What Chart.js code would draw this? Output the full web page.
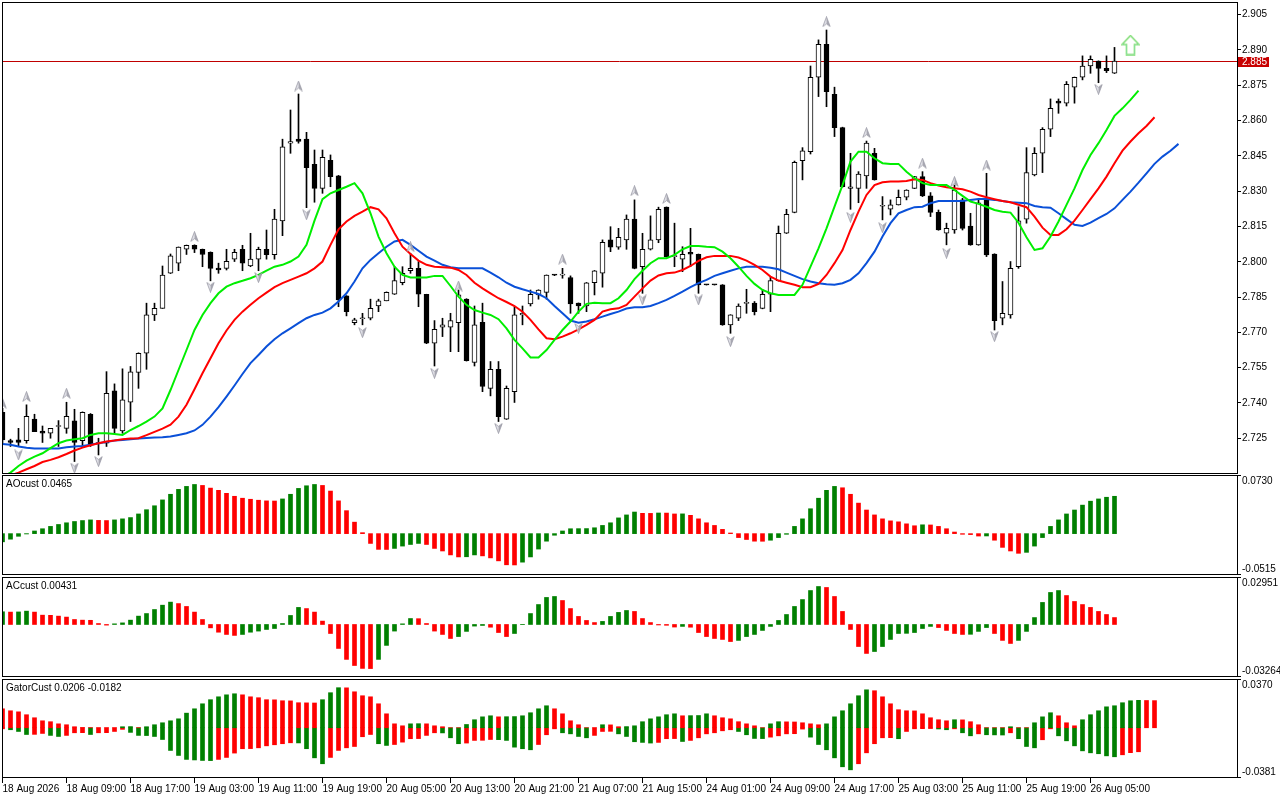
<!DOCTYPE html>
<html><head><meta charset="utf-8">
<script src="https://cdn.jsdelivr.net/npm/chart.js@4.4.1/dist/chart.umd.min.js"></script>
<style>
html,body{margin:0;padding:0;background:#fff;width:1280px;height:800px;overflow:hidden}
canvas{position:absolute;left:0}
</style></head><body>
<canvas id="c1" style="top:0px" width="1280" height="476"></canvas>
<canvas id="c2" style="top:474px" width="1280" height="102"></canvas>
<canvas id="c3" style="top:576px" width="1280" height="102"></canvas>
<canvas id="c4" style="top:678px" width="1280" height="122"></canvas>
<script>
// ---------- data ----------
const timeTickIndex=[0,8,16,24,32,40,48,56,64,72,80,88,96,104,112,120,128,136];
const timeTickLabels=["18 Aug 2026","18 Aug 09:00","18 Aug 17:00","19 Aug 03:00","19 Aug 11:00","19 Aug 19:00","20 Aug 05:00","20 Aug 13:00","20 Aug 21:00","21 Aug 07:00","21 Aug 15:00","24 Aug 01:00","24 Aug 09:00","24 Aug 17:00","25 Aug 03:00","25 Aug 11:00","25 Aug 19:00","26 Aug 05:00"];
const priceTicks=[2.905,2.890,2.875,2.860,2.845,2.830,2.815,2.800,2.785,2.770,2.755,2.740,2.725];
const priceRange=[2.7098,2.9104];
const aoRange=[-0.0515,0.0730];
const acRange=[-0.03264,0.02951];
const gatorRange=[-0.0381,0.0370];

const openP=[2.7360,2.7240,2.7243,2.7240,2.7331,2.7280,2.7271,2.7300,2.7292,2.7324,
2.7240,2.7352,2.7232,2.7229,2.7451,2.7281,2.7403,2.7530,2.7611,2.7774,
2.7802,2.7951,2.7994,2.8053,2.8070,2.8053,2.8040,2.7973,2.7972,2.8011,
2.8053,2.7982,2.8011,2.8053,2.8030,2.8174,2.8504,2.8521,2.8521,2.8414,
2.8312,2.8431,2.8365,2.7855,2.7741,2.7758,2.7760,2.7812,2.7834,2.7862,
2.7911,2.7962,2.7972,2.7862,2.7654,2.7722,2.7722,2.7741,2.7841,2.7572,
2.7743,2.7462,2.7543,2.7331,2.7448,2.7774,2.7821,2.7859,2.7870,2.7943,
2.7943,2.7933,2.7824,2.7812,2.7911,2.7951,2.8093,2.8062,2.8093,2.8181,
2.7979,2.8053,2.8093,2.8232,2.8022,2.8011,2.8040,2.8032,2.7902,2.7902,
2.7902,2.7732,2.7760,2.7823,2.7824,2.7802,2.7862,2.7920,2.8121,2.8210,
2.8430,2.8468,2.8784,2.8924,2.8712,2.8570,2.8312,2.8312,2.8365,2.8461,
2.8236,2.8223,2.8242,2.8274,2.8312,2.8362,2.8280,2.8210,2.8121,2.8135,
2.8263,2.8152,2.8072,2.8266,2.8033,2.7760,2.7774,2.7979,2.8181,2.8369,
2.8461,2.8563,2.8683,2.8674,2.8742,2.8784,2.8832,2.8853,2.8822,2.8801];
const highP=[2.7377,2.7246,2.7292,2.7392,2.7352,2.7302,2.7292,2.7325,2.7403,2.7373,
2.7362,2.7355,2.7250,2.7533,2.7481,2.7545,2.7555,2.7613,2.7824,2.7824,
2.7982,2.8033,2.8063,2.8071,2.8072,2.8054,2.8042,2.7994,2.8053,2.8053,
2.8070,2.8121,2.8062,2.8135,2.8223,2.8521,2.8645,2.8713,2.8550,2.8475,
2.8475,2.8454,2.8367,2.7856,2.7760,2.7781,2.7841,2.7841,2.7872,2.7979,
2.7979,2.8036,2.8001,2.7862,2.7750,2.7760,2.7781,2.7880,2.7843,2.7812,
2.7824,2.7576,2.7576,2.7472,2.7809,2.7812,2.7880,2.7881,2.7944,2.7945,
2.7972,2.7940,2.7825,2.7912,2.7963,2.8093,2.8149,2.8142,2.8199,2.8263,
2.8121,2.8195,2.8232,2.8233,2.8164,2.8064,2.8142,2.8033,2.7903,2.7903,
2.7903,2.7775,2.7821,2.7883,2.7831,2.7883,2.7937,2.8152,2.8223,2.8428,
2.8485,2.8832,2.8943,2.8985,2.8742,2.8572,2.8461,2.8383,2.8513,2.8482,
2.8277,2.8263,2.8305,2.8306,2.8363,2.8383,2.8294,2.8220,2.8164,2.8326,
2.8270,2.8206,2.8263,2.8376,2.8034,2.7916,2.8001,2.8234,2.8485,2.8485,
2.8570,2.8692,2.8692,2.8766,2.8785,2.8875,2.8875,2.8854,2.8875,2.8911];
const lowP=[2.7229,2.7215,2.7215,2.7229,2.7278,2.7232,2.7250,2.7215,2.7271,2.7151,
2.7215,2.7215,2.7179,2.7215,2.7271,2.7271,2.7321,2.7462,2.7543,2.7750,
2.7802,2.7950,2.7962,2.8031,2.8039,2.7979,2.7919,2.7951,2.7965,2.8001,
2.7962,2.7979,2.7962,2.8011,2.8011,2.8111,2.8461,2.8504,2.8230,2.8253,
2.8291,2.8319,2.7809,2.7770,2.7732,2.7732,2.7753,2.7788,2.7834,2.7861,
2.7902,2.7951,2.7809,2.7652,2.7557,2.7682,2.7618,2.7618,2.7578,2.7557,
2.7448,2.7430,2.7321,2.7330,2.7402,2.7732,2.7812,2.7841,2.7841,2.7941,
2.7930,2.7781,2.7781,2.7788,2.7859,2.7892,2.8043,2.8053,2.8053,2.7970,
2.7866,2.8050,2.8081,2.8020,2.7979,2.7958,2.7979,2.7866,2.7901,2.7901,
2.7730,2.7696,2.7750,2.7781,2.7774,2.7800,2.7788,2.7918,2.8120,2.8208,
2.8348,2.8458,2.8702,2.8659,2.8532,2.8317,2.8223,2.8251,2.8312,2.8347,
2.8178,2.8199,2.8241,2.8263,2.8311,2.8277,2.8192,2.8134,2.8072,2.8121,
2.8135,2.8070,2.8070,2.8022,2.7710,2.7732,2.7760,2.7972,2.8164,2.8365,
2.8379,2.8532,2.8631,2.8662,2.8674,2.8773,2.8801,2.8761,2.8804,2.8800];
const closeP=[2.7243,2.7232,2.7232,2.7343,2.7278,2.7271,2.7292,2.7304,2.7343,2.7232,
2.7360,2.7222,2.7226,2.7441,2.7292,2.7413,2.7532,2.7611,2.7774,2.7802,
2.7943,2.8025,2.8062,2.8070,2.8053,2.8031,2.7972,2.7965,2.8002,2.8040,
2.7994,2.8011,2.8053,2.8030,2.8181,2.8489,2.8511,2.8511,2.8400,2.8312,
2.8444,2.8362,2.7838,2.7788,2.7753,2.7760,2.7802,2.7834,2.7870,2.7920,
2.7951,2.7972,2.7862,2.7654,2.7713,2.7732,2.7750,2.7859,2.7580,2.7732,
2.7470,2.7543,2.7342,2.7462,2.7774,2.7781,2.7862,2.7880,2.7943,2.7943,
2.7944,2.7821,2.7812,2.7911,2.7962,2.8083,2.8062,2.8104,2.8181,2.7972,
2.8053,2.8093,2.8223,2.8022,2.8023,2.8032,2.8032,2.7902,2.7902,2.7902,
2.7732,2.7774,2.7812,2.7825,2.7788,2.7862,2.7920,2.8121,2.8202,2.8423,
2.8472,2.8784,2.8924,2.8723,2.8570,2.8319,2.8319,2.8373,2.8504,2.8348,
2.8238,2.8242,2.8274,2.8305,2.8362,2.8280,2.8210,2.8135,2.8142,2.8305,
2.8142,2.8072,2.8251,2.8029,2.7750,2.7781,2.7972,2.8174,2.8379,2.8461,
2.8563,2.8652,2.8674,2.8754,2.8784,2.8832,2.8860,2.8822,2.8812,2.8853];

const jawLine=[2.7226,2.7222,2.7215,2.7210,2.7206,2.7206,2.7206,2.7206,2.7212,2.7215,
2.7217,2.7222,2.7229,2.7234,2.7240,2.7243,2.7246,2.7249,2.7251,2.7253,
2.7254,2.7257,2.7264,2.7271,2.7283,2.7307,2.7342,2.7382,2.7427,2.7474,
2.7523,2.7569,2.7604,2.7640,2.7671,2.7696,2.7717,2.7739,2.7760,2.7774,
2.7784,2.7802,2.7831,2.7866,2.7916,2.7972,2.8008,2.8036,2.8064,2.8086,
2.8093,2.8072,2.8047,2.8022,2.8005,2.7987,2.7977,2.7972,2.7972,2.7972,
2.7972,2.7954,2.7934,2.7911,2.7894,2.7883,2.7873,2.7863,2.7845,2.7812,
2.7781,2.7750,2.7741,2.7746,2.7756,2.7767,2.7778,2.7788,2.7801,2.7807,
2.7807,2.7812,2.7824,2.7838,2.7855,2.7873,2.7892,2.7909,2.7923,2.7940,
2.7951,2.7962,2.7972,2.7979,2.7979,2.7979,2.7975,2.7968,2.7954,2.7940,
2.7926,2.7916,2.7909,2.7904,2.7902,2.7909,2.7923,2.7951,2.7994,2.8043,
2.8107,2.8164,2.8206,2.8220,2.8232,2.8234,2.8249,2.8258,2.8258,2.8258,
2.8258,2.8263,2.8267,2.8267,2.8263,2.8258,2.8253,2.8251,2.8249,2.8237,
2.8232,2.8230,2.8206,2.8181,2.8157,2.8152,2.8166,2.8185,2.8203,2.8227,
2.8263,2.8298,2.8336,2.8376,2.8416,2.8447,2.8472,2.8501];
const teethLine=[2.7085,2.7092,2.7104,2.7118,2.7132,2.7149,2.7158,2.7169,2.7183,2.7198,
2.7210,2.7220,2.7229,2.7236,2.7240,2.7246,2.7249,2.7250,2.7263,2.7277,
2.7291,2.7308,2.7342,2.7392,2.7458,2.7526,2.7590,2.7654,2.7708,2.7753,
2.7788,2.7817,2.7845,2.7869,2.7892,2.7909,2.7923,2.7937,2.7951,2.7972,
2.8001,2.8072,2.8138,2.8171,2.8195,2.8213,2.8232,2.8223,2.8185,2.8121,
2.8064,2.8033,2.8005,2.7987,2.7979,2.7977,2.7975,2.7965,2.7944,2.7911,
2.7887,2.7866,2.7845,2.7829,2.7812,2.7788,2.7753,2.7713,2.7675,2.7671,
2.7682,2.7696,2.7713,2.7732,2.7753,2.7788,2.7798,2.7802,2.7817,2.7852,
2.7887,2.7920,2.7942,2.7951,2.7954,2.7965,2.7982,2.8004,2.8019,2.8025,
2.8025,2.8025,2.8018,2.8005,2.7987,2.7965,2.7937,2.7920,2.7911,2.7902,
2.7892,2.7892,2.7906,2.7944,2.7994,2.8050,2.8135,2.8213,2.8284,2.8326,
2.8338,2.8341,2.8341,2.8343,2.8351,2.8348,2.8334,2.8324,2.8317,2.8312,
2.8308,2.8298,2.8284,2.8274,2.8266,2.8258,2.8253,2.8242,2.8232,2.8192,
2.8145,2.8114,2.8114,2.8138,2.8175,2.8220,2.8266,2.8312,2.8362,2.8419,
2.8472,2.8511,2.8546,2.8577,2.8614];
const lipsLine=[2.7085,2.7104,2.7132,2.7155,2.7172,2.7186,2.7208,2.7229,2.7240,2.7246,
2.7250,2.7264,2.7271,2.7271,2.7268,2.7264,2.7285,2.7302,2.7321,2.7342,
2.7377,2.7455,2.7540,2.7625,2.7710,2.7774,2.7824,2.7866,2.7894,2.7909,
2.7919,2.7930,2.7944,2.7962,2.7979,2.7987,2.8001,2.8022,2.8072,2.8175,
2.8266,2.8291,2.8305,2.8319,2.8334,2.8291,2.8206,2.8107,2.8036,2.7979,
2.7944,2.7933,2.7933,2.7933,2.7940,2.7940,2.7897,2.7852,2.7817,2.7795,
2.7784,2.7774,2.7756,2.7717,2.7668,2.7632,2.7593,2.7593,2.7625,2.7668,
2.7710,2.7746,2.7788,2.7821,2.7826,2.7824,2.7824,2.7845,2.7880,2.7926,
2.7962,2.7994,2.8015,2.8015,2.8029,2.8053,2.8067,2.8067,2.8064,2.8062,
2.8043,2.8015,2.7979,2.7940,2.7906,2.7880,2.7866,2.7859,2.7859,2.7859,
2.7902,2.7979,2.8057,2.8142,2.8234,2.8326,2.8426,2.8468,2.8468,2.8440,
2.8419,2.8416,2.8416,2.8383,2.8355,2.8334,2.8326,2.8326,2.8326,2.8305,
2.8280,2.8256,2.8246,2.8234,2.8220,2.8213,2.8209,2.8166,2.8104,2.8050,
2.8057,2.8107,2.8171,2.8242,2.8312,2.8390,2.8454,2.8504,2.8560,2.8620,
2.8652,2.8688,2.8727];

const fractalUpIndex=[0,3,8,24,37,51,57,70,79,83,103,108,115,119,123];
const fractalUpPrice=[2.7399,2.7427,2.7441,2.8107,2.8747,2.8064,2.7897,2.8011,2.8302,2.8269,2.9020,2.8549,2.8419,2.8341,2.8411];
const fractalDownIndex=[2,9,12,26,32,38,45,54,62,72,80,87,91,106,110,118,124,137];
const fractalDownPrice=[2.7179,2.7123,2.7151,2.7892,2.7933,2.8200,2.7699,2.7526,2.7292,2.7717,2.7838,2.7838,2.7661,2.8189,2.8145,2.8036,2.7682,2.8733];
const signalIndex=[141];
const signalPrice=[2.8921];

const aoValues=[-0.0102,-0.0069,-0.0033,-0.0004,0.0033,0.0061,0.0090,0.0114,0.0135,0.0151,
0.0163,0.0171,0.0165,0.0163,0.0171,0.0184,0.0200,0.0245,0.0298,0.0347,
0.0420,0.0490,0.0551,0.0588,0.0612,0.0600,0.0567,0.0539,0.0502,0.0465,
0.0441,0.0428,0.0416,0.0408,0.0406,0.0432,0.0490,0.0563,0.0596,0.0612,
0.0600,0.0530,0.0408,0.0286,0.0143,0.0012,-0.0122,-0.0196,-0.0197,-0.0184,
-0.0155,-0.0135,-0.0122,-0.0135,-0.0184,-0.0216,-0.0265,-0.0290,-0.0288,-0.0265,
-0.0277,-0.0302,-0.0339,-0.0388,-0.0390,-0.0355,-0.0290,-0.0192,-0.0094,-0.0020,
0.0033,0.0061,0.0062,0.0063,0.0073,0.0102,0.0135,0.0196,0.0233,0.0269,
0.0253,0.0252,0.0257,0.0256,0.0245,0.0246,0.0228,0.0184,0.0135,0.0102,
0.0053,0.0008,-0.0049,-0.0073,-0.0094,-0.0095,-0.0082,-0.0049,-0.0008,0.0090,
0.0184,0.0310,0.0441,0.0539,0.0588,0.0571,0.0490,0.0380,0.0294,0.0233,
0.0184,0.0159,0.0147,0.0122,0.0098,0.0110,0.0108,0.0090,0.0061,0.0020,
-0.0008,-0.0012,-0.0030,-0.0029,-0.0082,-0.0171,-0.0216,-0.0245,-0.0233,-0.0155,
-0.0049,0.0090,0.0171,0.0245,0.0294,0.0355,0.0404,0.0432,0.0453,0.0465];
const acValues=[0.0079,0.0077,0.0078,0.0083,0.0077,0.0058,0.0057,0.0052,0.0046,0.0031,
0.0027,0.0026,0.0006,-0.0004,0.0004,0.0010,0.0027,0.0052,0.0068,0.0093,
0.0120,0.0139,0.0130,0.0112,0.0077,0.0031,-0.0021,-0.0048,-0.0062,-0.0068,
-0.0062,-0.0048,-0.0041,-0.0031,-0.0025,0.0006,0.0056,0.0106,0.0099,0.0077,
0.0021,-0.0056,-0.0149,-0.0217,-0.0255,-0.0273,-0.0274,-0.0217,-0.0130,-0.0041,
0.0004,0.0037,0.0036,0.0006,-0.0041,-0.0062,-0.0087,-0.0075,-0.0043,-0.0010,
-0.0006,-0.0017,-0.0050,-0.0075,-0.0056,0.0001,0.0068,0.0124,0.0168,0.0174,
0.0149,0.0099,0.0050,0.0025,0.0012,0.0019,0.0050,0.0075,0.0087,0.0081,
0.0037,0.0012,-0.0003,-0.0005,-0.0016,-0.0012,-0.0017,-0.0050,-0.0075,-0.0087,
-0.0093,-0.0106,-0.0099,-0.0075,-0.0062,-0.0037,-0.0012,0.0025,0.0062,0.0112,
0.0155,0.0211,0.0236,0.0230,0.0174,0.0081,-0.0031,-0.0137,-0.0180,-0.0168,
-0.0137,-0.0093,-0.0056,-0.0055,-0.0050,-0.0025,-0.0012,-0.0019,-0.0037,-0.0056,
-0.0062,-0.0061,-0.0043,-0.0019,-0.0056,-0.0099,-0.0118,-0.0099,-0.0043,0.0043,
0.0137,0.0199,0.0211,0.0180,0.0143,0.0124,0.0106,0.0081,0.0062,0.00431];
const gatorUpper=[0.0144,0.0129,0.0121,0.0099,0.0076,0.0053,0.0046,0.0030,0.0023,0.0008,
0.0002,0.0001,0.0000,0.0000,0.0000,0.0008,0.0009,0.0001,0.0008,0.0023,
0.0038,0.0053,0.0068,0.0111,0.0144,0.0182,0.0213,0.0235,0.0250,0.0258,
0.0250,0.0235,0.0228,0.0213,0.0212,0.0205,0.0204,0.0190,0.0189,0.0188,
0.0213,0.0266,0.0304,0.0303,0.0273,0.0243,0.0235,0.0182,0.0106,0.0030,
0.0015,0.0030,0.0031,0.0030,0.0015,0.0008,0.0000,0.0000,0.0025,0.0061,
0.0083,0.0091,0.0083,0.0084,0.0085,0.0091,0.0114,0.0144,0.0167,0.0144,
0.0106,0.0053,0.0023,0.0000,0.0000,0.0023,0.0022,0.0008,0.0009,0.0015,
0.0046,0.0068,0.0083,0.0099,0.0106,0.0091,0.0092,0.0093,0.0106,0.0091,
0.0076,0.0068,0.0046,0.0030,0.0015,0.0000,0.0030,0.0046,0.0045,0.0044,
0.0038,0.0030,0.0023,0.0030,0.0083,0.0129,0.0182,0.0243,0.0288,0.0281,
0.0235,0.0182,0.0137,0.0129,0.0128,0.0106,0.0076,0.0061,0.0053,0.0061,
0.0060,0.0046,0.0023,0.0000,0.0000,0.0000,0.0008,0.0000,0.0000,0.0038,
0.0083,0.0114,0.0091,0.0038,0.0015,0.0061,0.0099,0.0129,0.0159,0.0167,
0.0190,0.0205,0.0208,0.0207,0.0206];
const gatorLower=[-0.0008,-0.0015,-0.0028,-0.0051,-0.0050,-0.0043,-0.0058,-0.0066,-0.0058,-0.0038,
-0.0037,-0.0051,-0.0038,-0.0037,-0.0028,-0.0012,-0.0035,-0.0058,-0.0059,-0.0066,
-0.0089,-0.0172,-0.0210,-0.0240,-0.0244,-0.0248,-0.0249,-0.0240,-0.0225,-0.0192,
-0.0159,-0.0158,-0.0152,-0.0137,-0.0129,-0.0121,-0.0114,-0.0115,-0.0159,-0.0228,
-0.0273,-0.0225,-0.0172,-0.0152,-0.0142,-0.0068,-0.0051,-0.0121,-0.0134,-0.0127,
-0.0109,-0.0083,-0.0082,-0.0058,-0.0038,-0.0039,-0.0076,-0.0121,-0.0116,-0.0096,
-0.0095,-0.0089,-0.0090,-0.0096,-0.0147,-0.0159,-0.0167,-0.0127,-0.0053,-0.0008,
-0.0038,-0.0046,-0.0066,-0.0076,-0.0058,-0.0028,-0.0027,-0.0046,-0.0066,-0.0106,
-0.0111,-0.0116,-0.0111,-0.0083,-0.0082,-0.0104,-0.0096,-0.0076,-0.0046,-0.0038,
-0.0023,-0.0015,-0.0028,-0.0053,-0.0081,-0.0082,-0.0071,-0.0061,-0.0046,-0.0045,
-0.0010,-0.0071,-0.0127,-0.0167,-0.0228,-0.0296,-0.0319,-0.0273,-0.0190,-0.0121,
-0.0076,-0.0075,-0.0083,-0.0028,-0.0008,-0.0007,-0.0006,-0.0009,-0.0015,-0.0008,
-0.0038,-0.0061,-0.0046,-0.0053,-0.0054,-0.0055,-0.0038,-0.0083,-0.0142,-0.0152,
-0.0091,-0.0008,-0.0061,-0.0099,-0.0137,-0.0175,-0.0190,-0.0197,-0.0213,-0.0220,
-0.0205,-0.0189,-0.0182];

// ---------- helpers ----------
const FONT='"Liberation Sans", Arial, sans-serif';
const GREEN='#008000', RED='#ff0000';
const xMin=-0.0625, xMax=xMin+1235/8;
const pts=a=>a.map((v,i)=>({x:i,y:v}));
const pick=(idx,val)=>idx.map((i,k)=>({x:i,y:val[k]}));
function dirColors(a,first){return a.map((v,i)=>{if(i===0)return first;return Math.abs(v)>Math.abs(a[i-1])?GREEN:RED;});}
function signedDir(a,first){return a.map((v,i)=>{if(i===0)return first;return v>a[i-1]?GREEN:RED;});}

function makeFractal(up){
  const c=document.createElement('canvas');c.width=9;c.height=11;
  const g=c.getContext('2d');
  if(!up){g.translate(0,11);g.scale(1,-1);}
  g.beginPath();g.moveTo(4.5,0.5);g.lineTo(0.8,10.3);g.lineTo(4.5,7.6);g.closePath();g.fillStyle='#e2e2ea';g.fill();
  g.beginPath();g.moveTo(4.5,0.5);g.lineTo(8.2,10.3);g.lineTo(4.5,7.6);g.closePath();g.fillStyle='#a8a8b2';g.fill();
  g.beginPath();g.moveTo(4.5,0.5);g.lineTo(0.8,10.3);g.lineTo(4.5,7.6);g.lineTo(8.2,10.3);g.closePath();
  g.strokeStyle='#9a9aa6';g.lineWidth=0.8;g.stroke();
  return c;
}
function makeSignal(){
  const c=document.createElement('canvas');c.width=19;c.height=21;
  const g=c.getContext('2d');
  g.beginPath();g.moveTo(9.5,1);g.lineTo(18,10);g.lineTo(13.5,10);g.lineTo(13.5,20);g.lineTo(5.5,20);g.lineTo(5.5,10);g.lineTo(1,10);g.closePath();
  g.fillStyle='#ffffff';g.fill();g.strokeStyle='#7fdc5a';g.lineWidth=1.6;g.stroke();
  g.strokeStyle='rgba(150,230,240,0.7)';g.lineWidth=0.6;g.stroke();
  return c;
}
const borderPlugin={id:'paneBorder',afterDraw(chart){const {ctx,chartArea:a}=chart;ctx.save();ctx.strokeStyle='#000';ctx.lineWidth=1;
  ctx.strokeRect(Math.floor(a.left)+0.5,Math.floor(a.top)+0.5,Math.round(a.right-a.left),Math.round(a.bottom-a.top)-1);ctx.restore();}};
const baseOpts=(pad)=>({responsive:false,animation:false,devicePixelRatio:1,events:[],
  layout:{padding:pad,autoPadding:false},plugins:{legend:{display:false},tooltip:{enabled:false}}});
const hiddenX={type:'linear',min:xMin,max:xMax,offset:false,display:false,grid:{offset:false}};

// ---------- main price pane ----------
const lastClose=closeP[closeP.length-1];
const pricePlugin={id:'priceLine',
  beforeDatasetsDraw(chart){const {ctx,chartArea:a,scales:{y}}=chart;const py=Math.round(y.getPixelForValue(lastClose))+0.5;
    ctx.save();ctx.strokeStyle='#c00000';ctx.lineWidth=1;ctx.beginPath();ctx.moveTo(a.left,py);ctx.lineTo(a.right,py);ctx.stroke();ctx.restore();},
  afterDraw(chart){const {ctx,chartArea:a,scales:{y}}=chart;const py=Math.round(y.getPixelForValue(lastClose));
    ctx.save();ctx.fillStyle='#c80000';ctx.fillRect(a.right+1,py-4,31,10);
    ctx.fillStyle='#fff';ctx.font='10px '+FONT;ctx.textBaseline='middle';ctx.textAlign='left';ctx.fillText(lastClose.toFixed(3),a.right+5,py+1);ctx.restore();}};

new Chart(document.getElementById('c1'),{
  type:'bar',
  data:{datasets:[
    {type:'line',data:pick(signalIndex,signalPrice),showLine:false,pointStyle:makeSignal(),pointRadius:9,order:0},
    {type:'line',data:pick(fractalUpIndex,fractalUpPrice),showLine:false,pointStyle:makeFractal(true),pointRadius:5,order:0},
    {type:'line',data:pick(fractalDownIndex,fractalDownPrice),showLine:false,pointStyle:makeFractal(false),pointRadius:5,order:0},
    {type:'line',data:pts(lipsLine),borderColor:'#00ee00',borderWidth:2,pointRadius:0,tension:0,order:1},
    {type:'line',data:pts(teethLine),borderColor:'#ff0000',borderWidth:2,pointRadius:0,tension:0,order:1},
    {type:'line',data:pts(jawLine),borderColor:'#0a50d8',borderWidth:2,pointRadius:0,tension:0,order:1},
    {type:'bar',data:openP.map((o,i)=>({x:i,y:[Math.min(o,closeP[i]),Math.max(o,closeP[i])]})),
      backgroundColor:openP.map((o,i)=>closeP[i]>o?'#ffffff':'#000000'),borderColor:'#000',borderWidth:1,borderSkipped:false,
      barThickness:5,minBarLength:1,grouped:false,order:3},
    {type:'bar',data:lowP.map((l,i)=>({x:i,y:[l,highP[i]]})),backgroundColor:'#000',barThickness:1,grouped:false,order:4}
  ]},
  options:Object.assign(baseOpts({left:2,right:0,top:2,bottom:2}),{
    scales:{
      x:hiddenX,
      y:{type:'linear',position:'right',min:priceRange[0],max:priceRange[1],
        afterBuildTicks:s=>{s.ticks=priceTicks.map(v=>({value:v}));},
        afterFit:s=>{s.width=43;s.paddingTop=0;s.paddingBottom=0;},
        ticks:{autoSkip:false,padding:1,color:'#000',font:{family:FONT,size:10},callback:v=>Number(v).toFixed(3)},
        grid:{drawOnChartArea:false,drawTicks:true,tickLength:4,color:'#000'},
        border:{display:false}}
    }}),
  plugins:[pricePlugin,borderPlugin]
});

// ---------- indicator panes ----------
function indicatorPlugin(title,range,digits){
  return {id:'ind',afterDraw(chart){const {ctx,chartArea:a}=chart;ctx.save();ctx.fillStyle='#000';ctx.font='10px '+FONT;
    ctx.textBaseline='middle';ctx.textAlign='left';
    ctx.fillText(title,6,a.top+9.5);
    ctx.fillText(range[1].toFixed(digits),a.right+5,a.top+6);
    ctx.fillText(range[0].toFixed(digits),a.right+5,a.bottom-5.5);
    ctx.strokeStyle='#000';ctx.lineWidth=1;ctx.beginPath();
    ctx.moveTo(a.right,Math.floor(a.top)+0.5);ctx.lineTo(a.right+4,Math.floor(a.top)+0.5);
    ctx.moveTo(a.right,Math.floor(a.bottom)-0.5);ctx.lineTo(a.right+4,Math.floor(a.bottom)-0.5);ctx.stroke();
    ctx.restore();}};
}
function barDs(vals,colors){return {type:'bar',data:pts(vals),backgroundColor:colors,barThickness:4,grouped:false,borderWidth:0};}

new Chart(document.getElementById('c2'),{
  type:'bar',data:{datasets:[barDs(aoValues,signedDir(aoValues,GREEN))]},
  options:Object.assign(baseOpts({left:2,right:43,top:1,bottom:1}),{scales:{x:hiddenX,y:{type:'linear',display:false,min:aoRange[0],max:aoRange[1]}}}),
  plugins:[indicatorPlugin('AOcust '+aoValues[aoValues.length-1].toFixed(4),aoRange,4),borderPlugin]
});
new Chart(document.getElementById('c3'),{
  type:'bar',data:{datasets:[barDs(acValues,signedDir(acValues,GREEN))]},
  options:Object.assign(baseOpts({left:2,right:43,top:1,bottom:1}),{scales:{x:hiddenX,y:{type:'linear',display:false,min:acRange[0],max:acRange[1]}}}),
  plugins:[indicatorPlugin('ACcust '+acValues[acValues.length-1].toFixed(5),acRange,5),borderPlugin]
});
new Chart(document.getElementById('c4'),{
  type:'bar',data:{datasets:[barDs(gatorUpper,dirColors(gatorUpper,RED)),barDs(gatorLower,dirColors(gatorLower,RED))]},
  options:Object.assign(baseOpts({left:2,right:43,top:1,bottom:0}),{scales:{
    x:{type:'linear',min:xMin,max:xMax,offset:false,position:'bottom',
      afterBuildTicks:s=>{s.ticks=timeTickIndex.map(v=>({value:v}));},
      afterFit:s=>{s.height=22;s.paddingLeft=0;s.paddingRight=0;},
      ticks:{autoSkip:false,maxRotation:0,minRotation:0,align:'start',padding:0,color:'#000',font:{family:FONT,size:10},
        callback:v=>{const k=timeTickIndex.indexOf(Math.round(v));return k>=0?timeTickLabels[k]:'';}},
      grid:{drawOnChartArea:false,drawTicks:true,tickLength:5,color:'#000',offset:false},
      border:{display:false}},
    y:{type:'linear',display:false,min:gatorRange[0],max:gatorRange[1]}}}),
  plugins:[indicatorPlugin('GatorCust '+gatorUpper[gatorUpper.length-1].toFixed(4)+' '+gatorLower[gatorLower.length-1].toFixed(4),gatorRange,4),borderPlugin]
});
</script>
</body></html>
